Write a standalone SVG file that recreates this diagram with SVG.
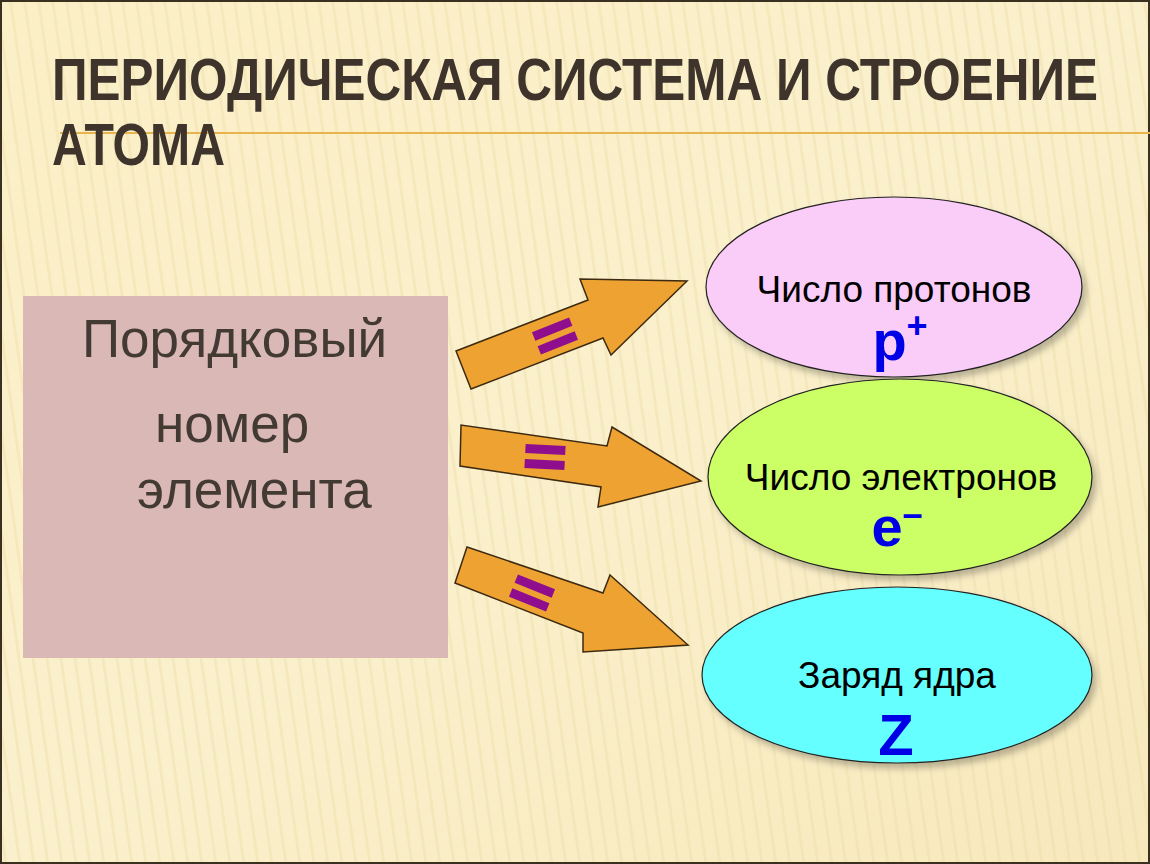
<svg xmlns="http://www.w3.org/2000/svg" width="1150" height="864" viewBox="0 0 1150 864">
<defs>
<linearGradient id="bg" x1="0" y1="0" x2="1" y2="1"><stop offset="0" stop-color="#FBEFC6"/><stop offset="0.5" stop-color="#FAF0CC"/><stop offset="1" stop-color="#F7E9BC"/></linearGradient>
<pattern id="str" width="14" height="864" patternUnits="userSpaceOnUse" patternTransform="skewX(8)"><rect width="14" height="864" fill="none"/><rect x="9" width="3" height="864" fill="#E9D9A6" opacity="0.35"/></pattern>
<filter id="sh" x="-10%" y="-10%" width="125%" height="125%"><feDropShadow dx="4" dy="5" stdDeviation="3" flood-color="#000" flood-opacity="0.25"/></filter>
</defs>
<style>
.t{font-family:"Liberation Sans Narrow","Liberation Sans",Arial,sans-serif;font-weight:bold;fill:#3E342C}
.b{font-family:"Liberation Sans",Arial,sans-serif;fill:#433A33;font-size:53px}
.e{font-family:"Liberation Sans",Arial,sans-serif;font-size:37px;fill:#000;text-anchor:middle}
.s{font-family:"Liberation Sans",Arial,sans-serif;font-weight:bold;fill:#0000E6}
.ar{fill:#EEA232;stroke:#3D2A10;stroke-width:1.5}
.eq{fill:#8E0E8E}
.el{stroke:#222;stroke-width:1.2;filter:url(#sh)}
</style>
<rect width="1150" height="864" fill="url(#bg)"/>
<rect width="1150" height="864" fill="url(#str)"/>
<rect x="1" y="1" width="1148" height="862" fill="none" stroke="#3A3020" stroke-width="2"/>
<line x1="60" y1="133" x2="1150" y2="133" stroke="#E7B44E" stroke-width="2"/>
<g id="title">
<text class="t" x="52" y="100" font-size="60" textLength="1046" lengthAdjust="spacingAndGlyphs">ПЕРИОДИЧЕСКАЯ СИСТЕМА И СТРОЕНИЕ</text>
<text class="t" x="52" y="165" font-size="60" textLength="173" lengthAdjust="spacingAndGlyphs">АТОМА</text>
</g>
<g id="element">
<rect x="23" y="296" width="425" height="362" fill="#D9B8B6"/>
<text class="b" x="82" y="357">Порядковый</text>
<text class="b" x="155" y="442">номер</text>
<text class="b" x="137" y="508">элемента</text>
</g>
<g id="connectors">
<polygon class="ar" points="471,389 456,351 588,300 580,279 687,281 611,355 603,338"/>
<g class="eq" transform="translate(555,336) rotate(-22)"><rect x="-20" y="-12" width="40" height="9"/><rect x="-20" y="3" width="40" height="9"/></g>
<polygon class="ar" points="461,425 460,466 601,487 598,507 701,481 612,427 607,446"/>
<g class="eq" transform="translate(545,457) rotate(3)"><rect x="-20" y="-12" width="40" height="9"/><rect x="-20" y="3" width="40" height="9"/></g>
<polygon class="ar" points="467,547 455,583 583,633 583,652 688,645 610,575 603,593"/>
<g class="eq" transform="translate(532,593) rotate(22)"><rect x="-20" y="-12" width="40" height="9"/><rect x="-20" y="3" width="40" height="9"/></g>
</g>
<g id="protons">
<ellipse class="el" cx="894" cy="287" rx="188" ry="90" fill="#FACCF8"/>
<text class="e" x="894" y="302">Число протонов</text>
<text class="s" x="900" y="360" font-size="56" text-anchor="middle">p<tspan font-size="36" dy="-22">+</tspan></text>
</g>
<g id="electrons">
<ellipse class="el" cx="900" cy="477" rx="192" ry="98" fill="#CCFF66"/>
<text class="e" x="901" y="490">Число электронов</text>
<text class="s" x="897" y="546" font-size="56" text-anchor="middle">e<tspan font-size="36" dy="-20">–</tspan></text>
</g>
<g id="charge">
<ellipse class="el" cx="897" cy="675" rx="195" ry="88" fill="#66FFFF"/>
<text class="e" x="897" y="688">Заряд ядра</text>
<text class="s" x="896" y="755" font-size="58" text-anchor="middle">Z</text>
</g>
</svg>
